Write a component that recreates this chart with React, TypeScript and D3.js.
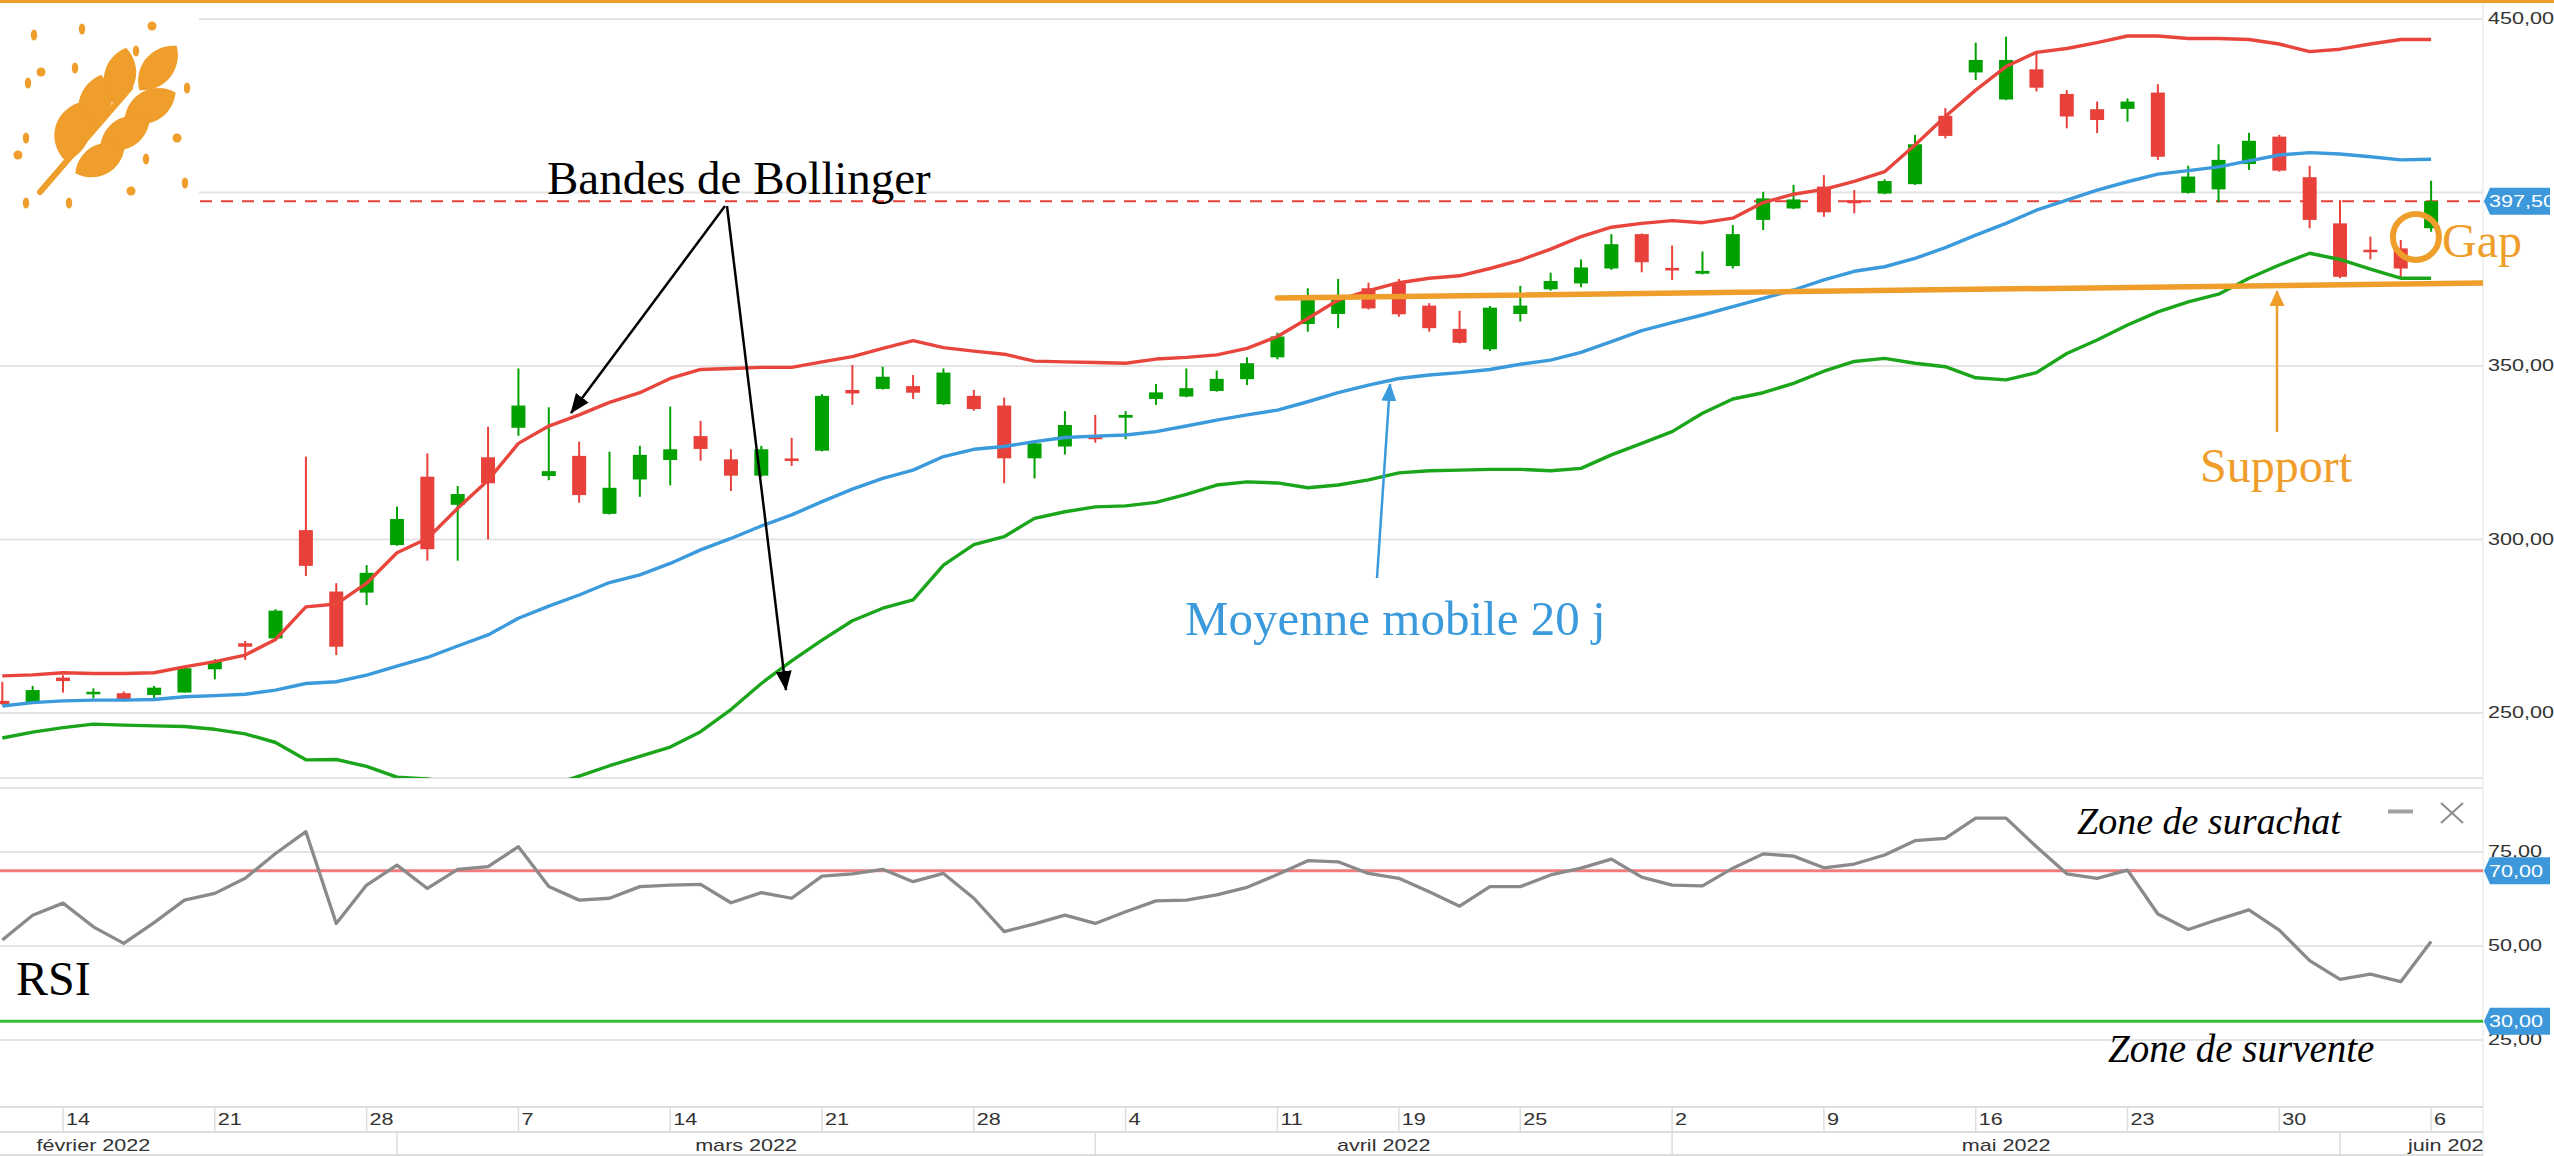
import React, { useEffect } from 'react';
import * as d3 from 'd3';

// ---------- DATA ----------
const dates = [
  '2022-02-10', '2022-02-11',
  '2022-02-14', '2022-02-15', '2022-02-16', '2022-02-17', '2022-02-18',
  '2022-02-21', '2022-02-22', '2022-02-23', '2022-02-24', '2022-02-25',
  '2022-02-28', '2022-03-01', '2022-03-02', '2022-03-03', '2022-03-04',
  '2022-03-07', '2022-03-08', '2022-03-09', '2022-03-10', '2022-03-11',
  '2022-03-14', '2022-03-15', '2022-03-16', '2022-03-17', '2022-03-18',
  '2022-03-21', '2022-03-22', '2022-03-23', '2022-03-24', '2022-03-25',
  '2022-03-28', '2022-03-29', '2022-03-30', '2022-03-31', '2022-04-01',
  '2022-04-04', '2022-04-05', '2022-04-06', '2022-04-07', '2022-04-08',
  '2022-04-11', '2022-04-12', '2022-04-13', '2022-04-14',
  '2022-04-19', '2022-04-20', '2022-04-21', '2022-04-22',
  '2022-04-25', '2022-04-26', '2022-04-27', '2022-04-28', '2022-04-29',
  '2022-05-02', '2022-05-03', '2022-05-04', '2022-05-05', '2022-05-06',
  '2022-05-09', '2022-05-10', '2022-05-11', '2022-05-12', '2022-05-13',
  '2022-05-16', '2022-05-17', '2022-05-18', '2022-05-19', '2022-05-20',
  '2022-05-23', '2022-05-24', '2022-05-25', '2022-05-26', '2022-05-27',
  '2022-05-30', '2022-05-31', '2022-06-01', '2022-06-02', '2022-06-03',
  '2022-06-06',
];

const openP = [
  253.5, 253.0, 260.2, 255.4, 255.7, 255.2, 255.9, 262.6, 270.1, 271.5,
  302.7, 285.0, 284.7, 298.4, 318.1, 310.0, 323.7, 332.2, 318.3, 324.1,
  307.4, 317.3, 322.9, 329.8, 323.1, 318.4, 323.3, 325.6, 343.1, 343.4,
  344.2, 339.0, 341.4, 338.6, 323.4, 326.8, 329.6, 335.1, 340.5, 341.2,
  342.8, 346.2, 352.5, 362.1, 365.0, 372.4, 373.8, 367.4, 360.7, 354.8,
  365.0, 372.1, 373.8, 378.1, 388.0, 378.1, 376.6, 378.8, 392.1, 395.4,
  401.7, 397.8, 399.7, 402.4, 422.1, 434.6, 426.8, 435.5, 428.4, 424.0,
  424.1, 428.8, 399.9, 400.9, 408.2, 416.1, 404.4, 391.1, 383.4, 383.9,
  389.7,
];
const highP = [
  259.0, 257.8, 260.9, 257.1, 256.2, 257.8, 263.2, 265.5, 270.8, 279.9,
  323.9, 287.4, 292.6, 309.5, 324.8, 315.4, 332.5, 349.3, 338.1, 328.2,
  325.3, 327.0, 338.3, 334.2, 326.0, 327.0, 329.3, 341.9, 350.3, 349.8,
  347.4, 349.3, 343.1, 340.9, 328.2, 337.0, 335.9, 337.0, 344.8, 349.3,
  348.7, 352.5, 359.6, 372.4, 375.1, 374.0, 375.1, 368.1, 365.9, 367.3,
  373.1, 376.9, 380.7, 388.0, 388.2, 384.7, 383.0, 390.6, 400.2, 402.2,
  405.0, 400.7, 403.8, 416.6, 424.3, 443.2, 444.9, 440.1, 429.5, 426.2,
  427.1, 431.2, 407.7, 413.9, 417.2, 416.6, 407.7, 397.8, 387.3, 386.3,
  403.4,
];
const lowP = [
  252.3, 252.8, 255.9, 254.2, 253.3, 254.2, 255.9, 259.7, 265.3, 270.8,
  289.5, 266.7, 281.1, 298.2, 293.9, 293.9, 300.0, 329.9, 317.1, 310.6,
  307.2, 312.3, 315.6, 322.7, 314.0, 318.1, 321.2, 325.4, 338.8, 343.2,
  340.5, 338.8, 337.1, 316.2, 317.6, 324.5, 327.9, 328.9, 338.8, 341.0,
  342.6, 344.5, 351.9, 359.9, 360.9, 366.3, 364.2, 359.9, 356.5, 354.3,
  362.8, 371.7, 372.7, 377.7, 377.0, 374.8, 376.4, 378.1, 389.2, 395.2,
  393.0, 394.0, 399.5, 402.2, 415.6, 432.4, 426.6, 429.1, 418.5, 417.1,
  420.4, 409.4, 399.7, 397.1, 406.5, 406.0, 389.7, 375.3, 380.7, 375.3,
  388.7,
];
const closeP = [
  252.6, 256.6, 259.2, 256.1, 253.5, 257.3, 262.9, 264.8, 269.1, 279.5,
  292.4, 269.1, 290.4, 305.9, 297.2, 313.1, 316.2, 338.6, 319.7, 312.8,
  314.9, 324.4, 326.0, 326.1, 318.4, 326.0, 322.7, 341.4, 342.1, 346.9,
  342.3, 348.1, 337.6, 323.4, 327.7, 333.0, 328.9, 335.9, 342.4, 343.6,
  346.3, 350.8, 358.5, 369.0, 369.0, 366.6, 364.9, 360.9, 356.7, 366.8,
  367.4, 374.5, 378.4, 385.1, 379.9, 377.7, 377.4, 388.0, 398.3, 398.0,
  394.3, 396.9, 403.3, 413.9, 416.3, 438.2, 438.2, 430.2, 421.9, 420.9,
  426.2, 410.3, 404.6, 409.4, 414.9, 406.3, 392.1, 375.7, 382.9, 378.1,
  397.5,
];

const upperBand = [
  260.7, 261.0, 261.6, 261.4, 261.4, 261.6, 263.3, 264.8, 266.7, 271.2,
  280.6, 281.4, 287.4, 296.2, 300.3, 309.0, 317.1, 327.7, 332.7, 335.9,
  339.5, 342.3, 346.4, 349.0, 349.3, 349.6, 349.6, 351.2, 352.7, 355.1,
  357.3, 355.3, 354.3, 353.4, 351.4, 351.2, 351.0, 350.8, 352.0, 352.5,
  353.2, 355.1, 358.5, 363.7, 369.0, 371.7, 374.0, 375.3, 376.0, 378.1,
  380.5, 383.7, 387.3, 390.0, 391.1, 391.9, 391.3, 392.6, 397.1, 399.5,
  400.9, 403.2, 406.0, 413.7, 421.9, 429.5, 436.3, 440.4, 441.5, 443.2,
  445.1, 445.1, 444.4, 444.4, 444.1, 442.8, 440.6, 441.3, 442.8, 444.1,
  444.1,
];
const middleBand = [
  252.0, 253.0, 253.5, 253.7, 253.7, 253.9, 254.7, 255.0, 255.4, 256.6,
  258.5, 259.0, 260.9, 263.5, 266.0, 269.3, 272.5, 277.3, 280.8, 284.0,
  287.6, 289.8, 293.1, 297.0, 300.3, 303.9, 307.1, 310.9, 314.5, 317.6,
  320.0, 323.9, 326.0, 326.8, 328.2, 329.4, 329.8, 330.1, 331.1, 332.7,
  334.4, 335.9, 337.3, 339.7, 342.3, 344.5, 346.4, 347.4, 348.1, 349.0,
  350.5, 351.7, 353.9, 357.0, 360.2, 362.5, 364.7, 367.1, 369.5, 371.9,
  374.8, 377.3, 378.6, 381.0, 384.1, 387.7, 391.1, 394.9, 397.8, 400.7,
  403.1, 405.3, 406.3, 407.4, 409.1, 410.8, 411.5, 411.1, 410.3, 409.4,
  409.6,
];
const lowerBand = [
  242.8, 244.5, 245.8, 246.8, 246.5, 246.3, 246.1, 245.3, 244.0, 241.5,
  236.5, 236.6, 234.6, 231.5, 231.0, 229.6, 228.0, 227.0, 229.0, 231.8,
  234.8, 237.5, 240.2, 244.6, 251.0, 258.5, 265.0, 271.0, 276.6, 280.2,
  282.6, 292.6, 298.5, 300.8, 306.1, 308.0, 309.4, 309.7, 310.7, 313.0,
  315.7, 316.6, 316.3, 314.9, 315.7, 317.2, 319.2, 319.8, 320.0, 320.2,
  320.2, 319.8, 320.5, 324.4, 327.7, 331.1, 336.4, 340.5, 342.3, 345.0,
  348.5, 351.3, 352.2, 350.8, 349.8, 346.6, 346.0, 348.1, 353.6, 357.5,
  361.8, 365.6, 368.5, 370.7, 375.3, 379.1, 382.5, 380.7, 377.9, 375.3,
  375.3,
];

const rsi = [
  51.6, 58.2, 61.4, 55.1, 50.7, 56.2, 62.2, 64.0, 68.0, 74.6,
  80.4, 56.0, 66.2, 71.5, 65.3, 70.4, 71.1, 76.4, 65.8, 62.2,
  62.7, 65.8, 66.2, 66.4, 61.5, 64.2, 62.7, 68.6, 69.2, 70.4,
  67.1, 69.3, 62.7, 53.8, 55.9, 58.2, 56.0, 59.1, 62.0, 62.2,
  63.6, 65.6, 69.0, 72.7, 72.4, 69.3, 68.0, 64.4, 60.6, 65.8,
  65.8, 68.9, 70.7, 73.1, 68.3, 66.2, 66.0, 70.7, 74.5, 73.9,
  70.8, 71.8, 74.2, 78.0, 78.6, 84.0, 84.0, 76.4, 69.2, 68.0,
  70.2, 58.5, 54.4, 57.1, 59.6, 54.2, 46.1, 41.1, 42.5, 40.5,
  51.2,
];

const priceTicks = [450, 400, 350, 300, 250];
const rsiTicks = [75, 50, 25];
const rsiLevels = [70, 30];
const lastPrice = 397.5;

const dayTicks = [
  '2022-02-14', '2022-02-21', '2022-02-28', '2022-03-07', '2022-03-14',
  '2022-03-21', '2022-03-28', '2022-04-04', '2022-04-11', '2022-04-19',
  '2022-04-25', '2022-05-02', '2022-05-09', '2022-05-16', '2022-05-23',
  '2022-05-30', '2022-06-06',
];
const monthStarts = ['2022-03-01', '2022-04-01', '2022-05-02', '2022-06-01'];
const monthLabels = ['février 2022', 'mars 2022', 'avril 2022', 'mai 2022', 'juin 2022'];

// annotation anchors (index, price)
const supportStart = [42, 369.6];
const supportEnd = [81.7, 373.9];
const gapMark = [79.5, 387.2];

// ---------- LAYOUT ----------
const W = 2554;
const H = 1156;
const PLOT_R = 2483;
const MAIN_T = 4;
const MAIN_B = 778;
const RSI_T = 788;
const RSI_B = 1107;
const AX_MID = 1132;

const ORANGE = '#EF9D2B';
const GREEN = '#01A101';
const RED = '#E8403A';
const GRID = '#E4E4E4';
const BLUE_BOX = '#3C98DA';

const frLocale = d3.formatLocale({ decimal: ',', thousands: ' ', grouping: [3], currency: ['', ' €'] });
const fmt = frLocale.format('.2f');

const x = d3.scaleLinear().domain([0, 80]).range([2.3, 2431.1]);
const yP = d3.scaleLinear().domain([250, 450]).range([713, 19]);
const yR = d3.scaleLinear().domain([25, 75]).range([1040, 852]);

const idxOf = (d: string) => dates.indexOf(d);

function Logo() {
  const leaves = [
    { cx: 158, cy: 68, l: 58, w: 30, r: 40 },
    { cx: 120, cy: 76, l: 58, w: 31, r: 12 },
    { cx: 150, cy: 106, l: 58, w: 31, r: 62 },
    { cx: 95, cy: 104, l: 60, w: 32, r: 12 },
    { cx: 125, cy: 133, l: 56, w: 30, r: 62 },
    { cx: 72, cy: 132, l: 60, w: 34, r: 12 },
    { cx: 100, cy: 160, l: 56, w: 30, r: 62 },
  ];
  const dots = [
    [34, 35, 0], [82, 29, 0], [152, 26, 1], [136, 51, 0], [41, 72, 1], [75, 68, 0],
    [28, 83, 0], [187, 88, 0], [26, 138, 0], [177, 138, 1], [18, 155, 1], [146, 159, 0],
    [185, 183, 0], [131, 191, 1], [26, 203, 0], [69, 203, 0],
  ];
  const leafPath = (l: number, w: number) =>
    `M0,${-l / 2} C${w * 0.68},${-l / 4} ${w * 0.68},${l / 4} 0,${l / 2} C${-w * 0.68},${l / 4} ${-w * 0.68},${-l / 4} 0,${-l / 2} Z`;
  return (
    <g fill={ORANGE}>
      <line x1={40} y1={192} x2={130} y2={88} stroke={ORANGE} strokeWidth={6} strokeLinecap="round" />
      {leaves.map((lf, i) => (
        <path key={i} d={leafPath(lf.l, lf.w)} transform={`translate(${lf.cx},${lf.cy}) rotate(${lf.r})`} />
      ))}
      {dots.map((d, i) => (
        <ellipse key={i} cx={d[0]} cy={d[1]} rx={d[2] ? 4.5 : 3.2} ry={d[2] ? 4.5 : 5.5} />
      ))}
    </g>
  );
}

function AxisText({ x0, y0, text, anchor = 'start', size = 17, fill = '#333' }: any) {
  return (
    <text
      transform={`translate(${x0},${y0}) scale(1.27,1)`}
      fontFamily="'Liberation Sans', Arial, sans-serif"
      fontSize={size}
      fill={fill}
      textAnchor={anchor}
      dominantBaseline="central"
    >
      {text}
    </text>
  );
}

function BlueLabel({ yc, text }: any) {
  const h = 13.5;
  const d = `M${PLOT_R + 1},${yc} L${PLOT_R + 7},${yc - h} L${W - 4},${yc - h} L${W - 4},${yc + h} L${PLOT_R + 7},${yc + h} Z`;
  return (
    <g>
      <path d={d} fill={BLUE_BOX} />
      <AxisText x0={PLOT_R + 6} y0={yc} text={text} fill="#fff" />
    </g>
  );
}

export default function App() {
  useEffect(() => {
    document.body.style.margin = '0';
    document.body.style.overflow = 'hidden';
  }, []);

  const lineP = (arr: number[]) =>
    d3.line<number>().x((_, i) => x(i)).y((v) => yP(v))(arr) as string;
  const rsiPath = d3.line<number>().x((_, i) => x(i)).y((v) => yR(v))(rsi) as string;

  const bodyW = 14;
  const serif = "'Liberation Serif', 'Times New Roman', serif";

  const monthX = [
    (x(-7) + x(idxOf(monthStarts[0]))) / 2, // 1 Feb lies 7 sessions before the first candle
    (x(idxOf(monthStarts[0])) + x(idxOf(monthStarts[1]))) / 2,
    (x(idxOf(monthStarts[1])) + x(idxOf(monthStarts[2]))) / 2,
    (x(idxOf(monthStarts[2])) + x(idxOf(monthStarts[3]))) / 2,
  ];

  return (
    <svg width={W} height={H} style={{ position: 'absolute', left: 0, top: 0, display: 'block', background: '#fff' }}>
      <defs>
        <clipPath id="mainClip">
          <rect x={0} y={MAIN_T} width={PLOT_R} height={MAIN_B - MAIN_T} />
        </clipPath>
        <clipPath id="rsiClip">
          <rect x={0} y={RSI_T} width={PLOT_R} height={RSI_B - RSI_T} />
        </clipPath>
        <clipPath id="axisClip">
          <rect x={0} y={RSI_B} width={PLOT_R} height={H - RSI_B} />
        </clipPath>
        <marker id="arrBlack" viewBox="0 0 20 16" refX={19} refY={8} markerWidth={20} markerHeight={16} markerUnits="userSpaceOnUse" orient="auto">
          <path d="M0,0 L20,8 L0,16 Z" fill="#000" />
        </marker>
        <marker id="arrBlue" viewBox="0 0 18 15" refX={17} refY={7.5} markerWidth={18} markerHeight={15} markerUnits="userSpaceOnUse" orient="auto">
          <path d="M0,0 L18,7.5 L0,15 Z" fill="#3A9ADB" />
        </marker>
        <marker id="arrOrange" viewBox="0 0 16 15" refX={15} refY={7.5} markerWidth={16} markerHeight={15} markerUnits="userSpaceOnUse" orient="auto">
          <path d="M0,0 L16,7.5 L0,15 Z" fill={ORANGE} />
        </marker>
      </defs>

      <rect x={0} y={0} width={W} height={H} fill="#fff" />
      {/* top orange band */}
      <rect x={0} y={0} width={W} height={3} fill={ORANGE} />

      {/* panel frames */}
      <line x1={0} x2={PLOT_R} y1={MAIN_B} y2={MAIN_B} stroke={GRID} strokeWidth={2} />
      <line x1={0} x2={PLOT_R} y1={RSI_T} y2={RSI_T} stroke={GRID} strokeWidth={2} />
      <line x1={PLOT_R} x2={PLOT_R} y1={3} y2={H} stroke="#EDEDED" strokeWidth={1.5} />

      {/* price grid */}
      {priceTicks.map((t) => (
        <line key={t} x1={0} x2={PLOT_R} y1={yP(t)} y2={yP(t)} stroke={GRID} strokeWidth={2} />
      ))}
      {/* last price dashed line */}
      <line x1={200} x2={PLOT_R} y1={yP(lastPrice)} y2={yP(lastPrice)} stroke="#E8403A" strokeWidth={2} strokeDasharray="12,9" />

      {/* candles */}
      <g clipPath="url(#mainClip)">
        {dates.map((d, i) => {
          const o = openP[i], c = closeP[i];
          const col = c >= o ? GREEN : RED;
          const top = yP(Math.max(o, c));
          const bot = yP(Math.min(o, c));
          const hgt = Math.max(2.5, bot - top);
          return (
            <g key={d}>
              <line x1={x(i)} x2={x(i)} y1={yP(highP[i])} y2={yP(lowP[i])} stroke={col} strokeWidth={2} />
              <rect x={x(i) - bodyW / 2} y={top - (hgt - (bot - top)) / 2} width={bodyW} height={hgt} fill={col} />
            </g>
          );
        })}
        {/* Bollinger bands */}
        <path d={lineP(lowerBand)} fill="none" stroke="#1BA51B" strokeWidth={3.4} strokeLinejoin="round" />
        <path d={lineP(middleBand)} fill="none" stroke="#3A9ADB" strokeWidth={3.4} strokeLinejoin="round" />
        <path d={lineP(upperBand)} fill="none" stroke="#E8453C" strokeWidth={3.4} strokeLinejoin="round" />
        {/* support line */}
        <line
          x1={x(supportStart[0])} y1={yP(supportStart[1])}
          x2={x(supportEnd[0])} y2={yP(supportEnd[1])}
          stroke={ORANGE} strokeWidth={5.5} strokeLinecap="round"
        />
        {/* gap circle */}
        <circle cx={x(gapMark[0])} cy={yP(gapMark[1])} r={23} fill="none" stroke={ORANGE} strokeWidth={6} />
      </g>

      {/* logo area */}
      <rect x={0} y={MAIN_T} width={199} height={208} fill="#fff" />
      <Logo />

      {/* price axis labels */}
      {priceTicks.filter((t) => t !== 400).map((t) => (
        <AxisText key={t} x0={PLOT_R + 5} y0={yP(t) - 1} text={fmt(t)} />
      ))}
      <BlueLabel yc={yP(lastPrice)} text={fmt(lastPrice)} />

      {/* annotations main */}
      <text x={547} y={194} fontFamily={serif} fontSize={47} fill="#000">Bandes de Bollinger</text>
      <line x1={725} y1={206} x2={571} y2={413} stroke="#000" strokeWidth={2.5} markerEnd="url(#arrBlack)" />
      <line x1={727} y1={206} x2={786} y2={690} stroke="#000" strokeWidth={2.5} markerEnd="url(#arrBlack)" />

      <text x={1185} y={635} fontFamily={serif} fontSize={49} fill="#3A9ADB">Moyenne mobile 20 j</text>
      <line x1={1377} y1={578} x2={1390} y2={384} stroke="#3A9ADB" strokeWidth={2.5} markerEnd="url(#arrBlue)" />

      <text x={2200} y={482} fontFamily={serif} fontSize={48} fill={ORANGE}>Support</text>
      <line x1={2277} y1={432} x2={2277} y2={291} stroke={ORANGE} strokeWidth={2.5} markerEnd="url(#arrOrange)" />

      <text x={2442} y={257} fontFamily={serif} fontSize={48} fill={ORANGE}>Gap</text>

      {/* RSI panel */}
      {rsiTicks.map((t) => (
        <line key={t} x1={0} x2={PLOT_R} y1={yR(t)} y2={yR(t)} stroke={GRID} strokeWidth={2} />
      ))}
      <line x1={0} x2={PLOT_R} y1={yR(rsiLevels[0])} y2={yR(rsiLevels[0])} stroke="#F27C7C" strokeWidth={3} />
      <line x1={0} x2={PLOT_R} y1={yR(rsiLevels[1])} y2={yR(rsiLevels[1])} stroke="#35BE35" strokeWidth={3} />
      <g clipPath="url(#rsiClip)">
        <path d={rsiPath} fill="none" stroke="#8A8A8A" strokeWidth={3.3} strokeLinejoin="round" />
      </g>
      {rsiTicks.map((t) => (
        <AxisText key={t} x0={PLOT_R + 5} y0={yR(t) - 1} text={fmt(t)} />
      ))}
      {rsiLevels.map((t) => (
        <BlueLabel key={t} yc={yR(t)} text={fmt(t)} />
      ))}

      <text x={16} y={995} fontFamily={serif} fontSize={48} fill="#000">RSI</text>
      <text x={2077} y={834} fontFamily={serif} fontStyle="italic" fontSize={38} fill="#000">Zone de surachat</text>
      <text x={2108} y={1062} fontFamily={serif} fontStyle="italic" fontSize={39} fill="#000">Zone de survente</text>

      {/* minimize / close icons */}
      <line x1={2388} x2={2413} y1={811.5} y2={811.5} stroke="#A0A0A0" strokeWidth={4} />
      <line x1={2441} y1={803} x2={2463} y2={823} stroke="#8C8C8C" strokeWidth={2} />
      <line x1={2463} y1={803} x2={2441} y2={823} stroke="#8C8C8C" strokeWidth={2} />

      {/* time axis */}
      <line x1={0} x2={PLOT_R} y1={RSI_B} y2={RSI_B} stroke="#DDDDDD" strokeWidth={2} />
      <line x1={0} x2={PLOT_R} y1={AX_MID} y2={AX_MID} stroke="#DDDDDD" strokeWidth={2} />
      <line x1={0} x2={PLOT_R} y1={H - 1} y2={H - 1} stroke="#DDDDDD" strokeWidth={2} />
      <g clipPath="url(#axisClip)">
        {dayTicks.map((d) => {
          const xi = x(idxOf(d));
          return (
            <g key={d}>
              <line x1={xi} x2={xi} y1={RSI_B} y2={AX_MID} stroke="#DDDDDD" strokeWidth={1.5} />
              <AxisText x0={xi + 3} y0={1119} text={String(+d.slice(8))} />
            </g>
          );
        })}
        {monthStarts.map((d) => {
          const xi = x(idxOf(d));
          return <line key={d} x1={xi} x2={xi} y1={AX_MID} y2={H} stroke="#DDDDDD" strokeWidth={1.5} />;
        })}
        {monthX.map((mx, i) => (
          <AxisText key={i} x0={mx} y0={1145} text={monthLabels[i]} anchor="middle" />
        ))}
        <AxisText x0={2408} y0={1145} text={monthLabels[4]} />
      </g>
    </svg>
  );
}
